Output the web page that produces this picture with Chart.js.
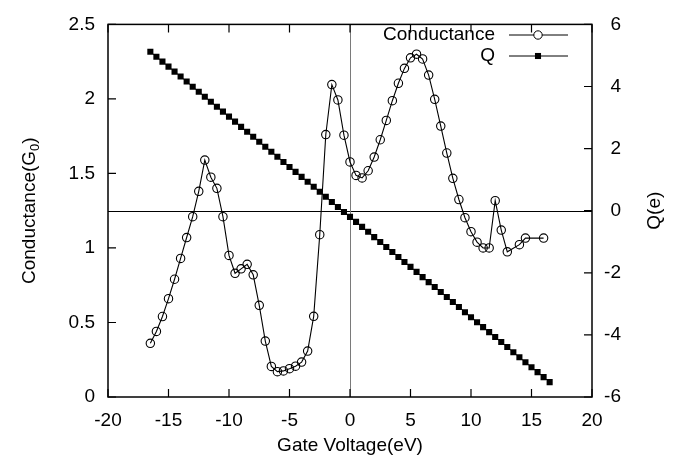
<!DOCTYPE html>
<html>
<head>
<meta charset="utf-8">
<script src="https://cdn.jsdelivr.net/npm/chart.js@4.4.1/dist/chart.umd.min.js"></script>
<style>
  html, body { margin: 0; padding: 0; background: #fff; }
  #wrap { width: 679px; height: 461px; }
</style>
</head>
<body>
<div id="wrap"><canvas id="c" width="679" height="461"></canvas></div>
<script>
// Gate voltage sample points for the conductance curve (eV)
const gateVoltage = [
  -16.5, -16, -15.5, -15, -14.5, -14, -13.5, -13, -12.5, -12, -11.5, -11, -10.5, -10,
  -9.5, -9, -8.5, -8, -7.5, -7, -6.5, -6, -5.5, -5, -4.5, -4, -3.5, -3, -2.5, -2,
  -1.5, -1, -0.5, 0, 0.5, 1, 1.5, 2, 2.5, 3, 3.5, 4, 4.5, 5, 5.5, 6, 6.5, 7, 7.5,
  8, 8.5, 9, 9.5, 10, 10.5, 11, 11.5, 12, 12.5, 13, 14, 14.5, 16
];
// Conductance in units of G0
const conductance = [
  0.36, 0.44, 0.54, 0.66, 0.79, 0.93, 1.07, 1.21, 1.38, 1.59, 1.475, 1.40, 1.21, 0.95,
  0.83, 0.86, 0.89, 0.82, 0.615, 0.375, 0.205, 0.17, 0.175, 0.19, 0.207, 0.234, 0.308, 0.541, 1.089, 1.761,
  2.096, 1.993, 1.757, 1.577, 1.487, 1.47, 1.518, 1.61, 1.726, 1.856, 1.988, 2.105, 2.205, 2.276, 2.30, 2.268, 2.16, 1.997, 1.818,
  1.637, 1.467, 1.325, 1.203, 1.109, 1.039, 1.0, 1.0, 1.317, 1.12, 0.974, 1.022, 1.066, 1.066
];
// Gate voltage sample points for the charge curve (eV)
const chargeVoltage = [
  -16.5, -16, -15.5, -15, -14.5, -14, -13.5, -13, -12.5, -12, -11.5, -11, -10.5, -10,
  -9.5, -9, -8.5, -8, -7.5, -7, -6.5, -6, -5.5, -5, -4.5, -4, -3.5, -3, -2.5, -2,
  -1.5, -1, -0.5, 0, 0.5, 1, 1.5, 2, 2.5, 3, 3.5, 4, 4.5, 5, 5.5, 6, 6.5, 7, 7.5,
  8, 8.5, 9, 9.5, 10, 10.5, 11, 11.5, 12, 12.5, 13, 13.5, 14, 14.5, 15, 15.5, 16, 16.5
];
// Charge Q in units of e
const charge = [
  5.12, 4.96, 4.80, 4.64, 4.48, 4.32, 4.16, 3.99, 3.83, 3.67, 3.51, 3.35, 3.19, 3.03,
  2.87, 2.70, 2.54, 2.38, 2.22, 2.06, 1.90, 1.74, 1.57, 1.41, 1.25, 1.09, 0.93, 0.77, 0.61, 0.45,
  0.28, 0.12, -0.04, -0.20, -0.36, -0.52, -0.68, -0.85, -1.01, -1.17, -1.33, -1.49, -1.65, -1.81, -1.97, -2.14, -2.30, -2.46, -2.62,
  -2.78, -2.94, -3.10, -3.27, -3.43, -3.59, -3.75, -3.91, -4.07, -4.23, -4.39, -4.56, -4.72, -4.88, -5.04, -5.20, -5.36, -5.52
];
// Axis tick values
const xTicks = [-20, -15, -10, -5, 0, 5, 10, 15, 20];
const gTicks = [0, 0.5, 1, 1.5, 2, 2.5];
const qTicks = [-6, -4, -2, 0, 2, 4, 6];

const FONT = "'Liberation Sans', Arial, Helvetica, sans-serif";
const FSIZE = 19;
const plain = v => String(v);

const conductancePoints = gateVoltage.map((v, i) => ({ x: v, y: conductance[i] }));
const chargePoints = chargeVoltage.map((v, i) => ({ x: v, y: charge[i] }));

// Frame, inward tick marks, zero lines, key and axis titles
const decor = {
  id: 'decor',
  beforeDatasetsDraw(chart) {
    const { ctx, chartArea: a, scales } = chart;
    ctx.save();
    ctx.lineWidth = 1;
    ctx.strokeStyle = '#000';
    const y0 = Math.round(scales.yQ.getPixelForValue(0)) + 0.5;
    ctx.beginPath(); ctx.moveTo(a.left, y0); ctx.lineTo(a.right, y0); ctx.stroke();
    ctx.strokeStyle = '#7a7a7a';
    const x0 = Math.round(scales.x.getPixelForValue(0)) + 0.5;
    ctx.beginPath(); ctx.moveTo(x0, a.top); ctx.lineTo(x0, a.bottom); ctx.stroke();
    ctx.restore();
  },
  afterDraw(chart) {
    const { ctx, chartArea: a, scales } = chart;
    const TL = 8;
    ctx.save();
    ctx.strokeStyle = '#000';
    ctx.lineWidth = 1.2;
    ctx.beginPath();
    xTicks.forEach(v => {
      const px = scales.x.getPixelForValue(v);
      ctx.moveTo(px, a.bottom); ctx.lineTo(px, a.bottom - TL);
      ctx.moveTo(px, a.top); ctx.lineTo(px, a.top + TL);
    });
    gTicks.forEach(v => {
      const py = scales.yG.getPixelForValue(v);
      ctx.moveTo(a.left, py); ctx.lineTo(a.left + TL, py);
    });
    qTicks.forEach(v => {
      const py = scales.yQ.getPixelForValue(v);
      ctx.moveTo(a.right, py); ctx.lineTo(a.right - TL, py);
    });
    ctx.stroke();

    ctx.lineWidth = 1.5;
    ctx.strokeRect(a.left, a.top, a.right - a.left, a.bottom - a.top);

    // key
    ctx.fillStyle = '#000';
    ctx.font = FSIZE + 'px ' + FONT;
    ctx.textAlign = 'right';
    ctx.textBaseline = 'middle';
    const kx = 495, k1 = 35, k2 = 56, ls = 509, le = 568, mx = 538;
    ctx.fillText('Conductance', kx, k1);
    ctx.fillText('Q', kx, k2);
    ctx.lineWidth = 1;
    ctx.beginPath();
    ctx.moveTo(ls, k1); ctx.lineTo(le, k1);
    ctx.moveTo(ls, k2); ctx.lineTo(le, k2);
    ctx.stroke();
    const d0 = chart.data.datasets[0], d1 = chart.data.datasets[1];
    ctx.fillStyle = '#fff';
    ctx.beginPath(); ctx.arc(mx, k1, d0.pointRadius, 0, Math.PI * 2); ctx.fill(); ctx.stroke();
    ctx.fillStyle = '#000';
    Chart.helpers.drawPoint(ctx, {
      pointStyle: d1.pointStyle, radius: d1.pointRadius, borderWidth: 0, rotation: 0
    }, mx, k2);

    // axis titles
    ctx.textAlign = 'center';
    ctx.textBaseline = 'middle';
    ctx.font = FSIZE + 'px ' + FONT;
    ctx.fillText('Gate Voltage(eV)', (a.left + a.right) / 2, 446);

    const cy = (a.top + a.bottom) / 2;
    // left title with subscript
    ctx.save();
    ctx.translate(30, cy);
    ctx.rotate(-Math.PI / 2);
    ctx.textAlign = 'left';
    ctx.textBaseline = 'middle';
    const t1 = 'Conductance(G', t2 = '0', t3 = ')';
    ctx.font = FSIZE + 'px ' + FONT;
    const w1 = ctx.measureText(t1).width, w3 = ctx.measureText(t3).width;
    ctx.font = '13px ' + FONT;
    const w2 = ctx.measureText(t2).width;
    let sx = -(w1 + w2 + w3) / 2;
    ctx.font = FSIZE + 'px ' + FONT;
    ctx.fillText(t1, sx, 0); sx += w1;
    ctx.font = '13px ' + FONT;
    ctx.fillText(t2, sx, 5); sx += w2;
    ctx.font = FSIZE + 'px ' + FONT;
    ctx.fillText(t3, sx, 0);
    ctx.restore();

    // right title
    ctx.save();
    ctx.translate(655, cy);
    ctx.rotate(-Math.PI / 2);
    ctx.textAlign = 'center';
    ctx.textBaseline = 'middle';
    ctx.fillText('Q(e)', 0, 0);
    ctx.restore();

    ctx.restore();
  }
};

new Chart(document.getElementById('c'), {
  type: 'line',
  data: {
    datasets: [
      {
        label: 'Conductance',
        data: conductancePoints,
        yAxisID: 'yG',
        borderColor: '#000',
        borderWidth: 1.1,
        pointStyle: 'circle',
        pointRadius: 4.2,
        pointBorderWidth: 1.1,
        pointBorderColor: '#000',
        pointBackgroundColor: 'rgba(0,0,0,0)',
        fill: false,
        tension: 0
      },
      {
        label: 'Q',
        data: chargePoints,
        yAxisID: 'yQ',
        borderColor: '#000',
        borderWidth: 1,
        pointStyle: 'rect',
        pointRadius: 4.3,
        pointBorderWidth: 0,
        pointBackgroundColor: '#000',
        fill: false,
        tension: 0
      }
    ]
  },
  options: {
    responsive: false,
    animation: false,
    events: [],
    devicePixelRatio: 1,
    layout: { padding: { top: 16, left: 0, right: 58, bottom: 0 } },
    plugins: { legend: { display: false }, tooltip: { enabled: false } },
    scales: {
      x: {
        type: 'linear',
        min: -20, max: 20,
        afterBuildTicks: s => { s.ticks = xTicks.map(v => ({ value: v })); },
        afterFit: s => { s.height = 64; },
        grid: { display: false, drawTicks: false },
        border: { display: false },
        ticks: { color: '#000', font: { family: FONT, size: FSIZE }, padding: 12, maxRotation: 0, autoSkip: false, callback: plain }
      },
      yG: {
        type: 'linear',
        position: 'left',
        min: 0, max: 2.5,
        afterBuildTicks: s => { s.ticks = gTicks.map(v => ({ value: v })); },
        afterFit: s => { s.width = 108; },
        grid: { display: false, drawTicks: false },
        border: { display: false },
        ticks: { color: '#000', font: { family: FONT, size: FSIZE }, padding: 13, autoSkip: false, callback: plain }
      },
      yQ: {
        type: 'linear',
        position: 'right',
        min: -6, max: 6,
        afterBuildTicks: s => { s.ticks = qTicks.map(v => ({ value: v })); },
        afterFit: s => { s.width = 29; },
        grid: { display: false, drawTicks: false },
        border: { display: false },
        ticks: { color: '#000', font: { family: FONT, size: FSIZE }, crossAlign: 'far', autoSkip: false, callback: plain }
      }
    }
  },
  plugins: [decor]
});
</script>
</body>
</html>
